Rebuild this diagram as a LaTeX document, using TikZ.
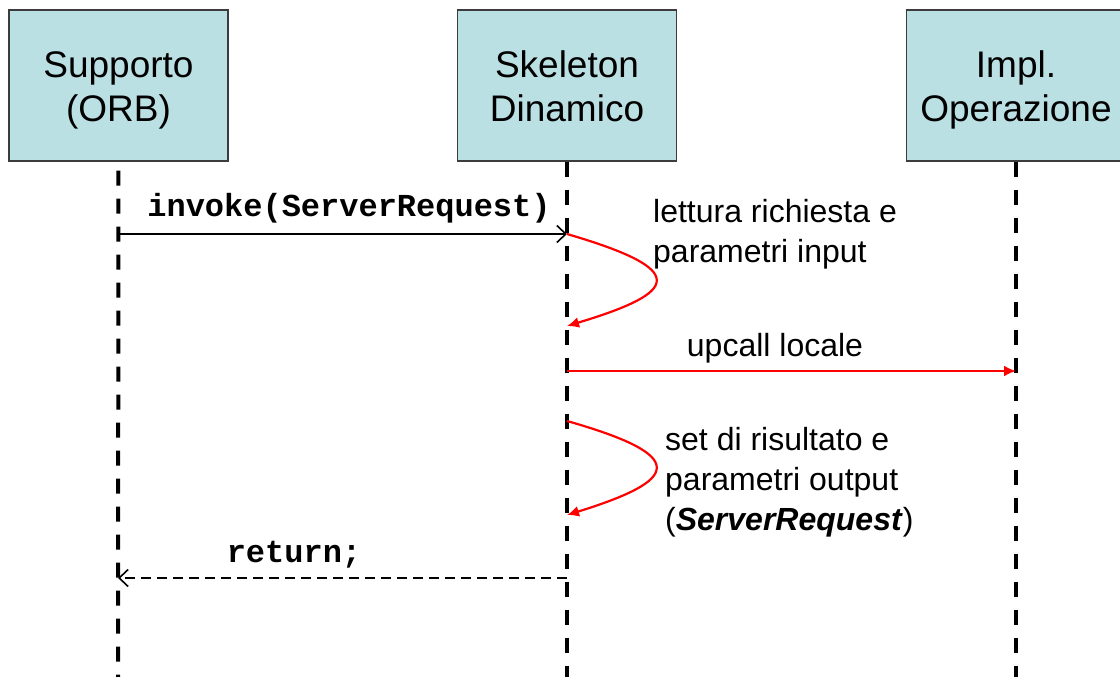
\documentclass[tikz,border=0pt]{standalone}
\usepackage{fontspec}
\setmainfont{Liberation Sans}
\setmonofont{Liberation Mono}
\usetikzlibrary{arrows.meta}
\definecolor{boxfill}{RGB}{187,224,227}
\definecolor{boxline}{RGB}{60,60,60}
\definecolor{msgred}{RGB}{255,0,0}
\tikzset{
  actor/.style={draw=boxline, line width=1.2pt, fill=boxfill, minimum width=219pt, minimum height=151pt,
    inner sep=0pt},
  actortext/.style={inner sep=0pt, align=center, font=\fontsize{37}{44}\selectfont},
  lifeline/.style={line width=4pt, dash pattern=on 15pt off 13pt},
  callmsg/.style={line width=1.8pt, -{Straight Barb[length=9pt,width=17pt,line width=1.6pt]}},
  retmsg/.style={line width=2.2pt, dash pattern=on 10pt off 6pt, -{Straight Barb[length=9pt,width=17pt,line width=1.6pt]}},
  selfmsg/.style={draw=msgred, line width=2.2pt, -{Latex[length=12pt,width=11pt]}},
  redmsg/.style={draw=msgred, line width=2.2pt, -{Latex[length=12pt,width=11pt]}},
  codelabel/.style={font=\fontsize{32}{38}\selectfont\ttfamily\bfseries, inner sep=0pt},
  notelabel/.style={font=\fontsize{32}{40}\selectfont, inner sep=0pt, align=left},
}
\begin{document}
\begin{tikzpicture}[x=1pt,y=-1pt]
\useasboundingbox (0,0) rectangle (1120,677);
\fill[white] (0,0) rectangle (1120,677);
% actors
\node[actor] (b1) at (118.5,85.5) {};
\node[actor] (b2) at (567,85.5) {};
\node[actor] (b3) at (1016,85.5) {};
\node[actortext] (t1) at (118.5,91) {\strut Supporto\\\strut (ORB)};
\node[actortext] (t2) at (567,91) {\strut Skeleton\\\strut Dinamico};
\node[actortext] (t3) at (1016,91) {\strut Impl.\\\strut Operazione};
% lifeline ends
\coordinate (e1) at (118,677);
\coordinate (e2) at (567,677);
\coordinate (e3) at (1016,677);
\draw[lifeline, dash phase=-9pt] (b1.south) -- (e1);
\draw[lifeline] (b2.south) -- (e2);
\draw[lifeline] (b3.south) -- (e3);
% message points
\coordinate (p1a) at (118,234);
\coordinate (p1b) at (567,234);
\coordinate (p2a) at (567,234);
\coordinate (p2b) at (567,326);
\coordinate (p3a) at (567,371);
\coordinate (p3b) at (1016,371);
\coordinate (p4a) at (567,421);
\coordinate (p4b) at (567,515);
\coordinate (p5a) at (567,578);
\coordinate (p5b) at (118,578);
% messages
\draw[callmsg] (p1a) -- (p1b);
\node[codelabel, anchor=base] (l1) at (349,216) {invoke(ServerRequest)};
\draw[selfmsg] (p2a) .. controls (690,270) and (680,292) .. (p2b);
\node[notelabel, anchor=base west] (l2a) at (653,222) {lettura richiesta e};
\node[notelabel, anchor=base west] (l2b) at (653,262) {parametri input};
\draw[redmsg] (p3a) -- (p3b);
\node[notelabel, anchor=base] (l3) at (775,356) {upcall locale};
\draw[selfmsg] (p4a) .. controls (690,456) and (680,480) .. (p4b);
\node[notelabel, anchor=base west] (l4a) at (665,450) {set di risultato e};
\node[notelabel, anchor=base west] (l4b) at (665,490) {parametri output};
\node[notelabel, anchor=base west] (l4c) at (665,530) {(\textbf{\textit{ServerRequest}})};
\draw[retmsg] (p5a) -- (p5b);
\node[codelabel, anchor=base] (l5) at (294,562) {return;};
\end{tikzpicture}
\end{document}
